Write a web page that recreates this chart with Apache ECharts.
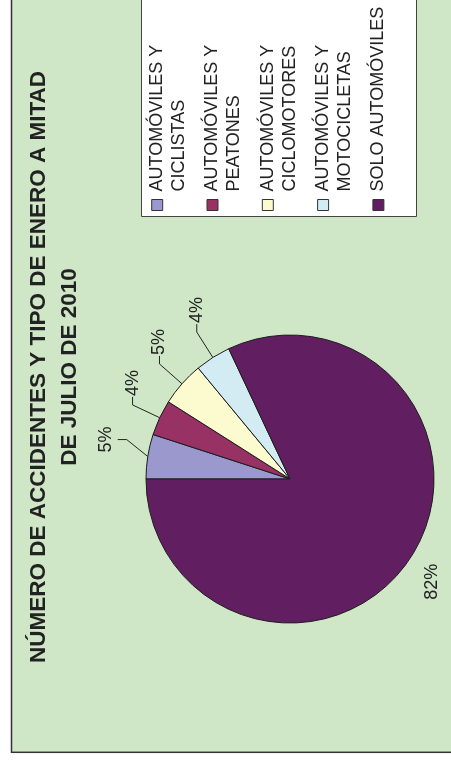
<!DOCTYPE html>
<html>
<head>
<meta charset="utf-8">
<script src="https://cdn.jsdelivr.net/npm/echarts@6/dist/echarts.min.js"></script>
<style>
  html, body { margin: 0; padding: 0; background: #fff; width: 451px; height: 765px; overflow: hidden; }
  /* The chart is laid out landscape and turned a quarter turn so it reads bottom-to-top. */
  #chart {
    position: absolute; left: 0; top: 0;
    width: 765px; height: 451px;
    transform-origin: 0 0;
    transform: translate(0, 765px) rotate(-90deg);
  }
</style>
</head>
<body>
<div id="chart"></div>
<script>
// Accident types (legend entries) and their share of the total, in %
const categories = [
  'AUTOMÓVILES Y\nCICLISTAS',
  'AUTOMÓVILES Y\nPEATONES',
  'AUTOMÓVILES Y\nCICLOMOTORES',
  'AUTOMÓVILES Y\nMOTOCICLETAS',
  'SOLO AUTOMÓVILES'
];
const shares = [5, 4, 5, 4, 82];
const sliceColors = ['#9a98cc', '#983265', '#fcfacf', '#d3ecf3', '#611f61'];
const titleLines = ['NÚMERO DE ACCIDENTES Y TIPO DE ENERO A MITAD', 'DE JULIO DE 2010'];

const FONT = '"Liberation Sans", Arial, Helvetica, sans-serif';
const CX = 286, CY = 290, R = 144;
const total = shares.reduce((a, b) => a + b, 0);

// Mid angle of slice i, measured clockwise from 12 o'clock
function midAngle(i) {
  let before = 0;
  for (let k = 0; k < i; k++) before += shares[k];
  return (before + shares[i] / 2) / total * Math.PI * 2;
}

// Pad legend text so the swatch lines up with the first text line
// and every entry takes the same number of lines
const BLANK = '\u00a0';
const maxLines = Math.max(...categories.map(c => c.split('\n').length));
const blockLines = 2 * maxLines - 1;
function legendText(name) {
  const lines = name.split('\n');
  const n = lines.length;
  const extra = (blockLines - (2 * n - 1)) / 2;
  const pre = new Array(n - 1 + extra).fill(BLANK);
  const post = new Array(extra).fill(BLANK);
  return pre.concat(lines, post).join('\n');
}

const chart = echarts.init(document.getElementById('chart'), null, { renderer: 'canvas' });

chart.setOption({
  backgroundColor: '#ffffff',
  animation: false,
  graphic: [
    {
      type: 'rect', z: -10, silent: true,
      shape: { x: 12.7, y: 11.5, width: 800, height: 500 },
      style: { fill: '#cfe7c6', stroke: '#333333', lineWidth: 1.5 }
    },
    {
      type: 'rect', z: -5, silent: true,
      shape: { x: 548.5, y: 141.5, width: 300, height: 275 },
      style: { fill: '#ffffff', stroke: '#444444', lineWidth: 1 }
    }
  ],
  title: {
    text: titleLines.join('\n'),
    left: 398,
    top: 23.5,
    padding: 0,
    textAlign: 'center',
    textStyle: {
      fontFamily: FONT, fontSize: 22.5, fontWeight: 'bold',
      color: '#222222', lineHeight: 31
    }
  },
  legend: {
    orient: 'vertical',
    left: 554,
    top: 124.2,
    padding: 0,
    itemGap: -10.7,
    itemWidth: 11,
    itemHeight: 11,
    icon: 'rect',
    selectedMode: false,
    data: categories,
    formatter: legendText,
    itemStyle: { borderColor: '#333333', borderWidth: 1 },
    textStyle: {
      fontFamily: FONT, fontSize: 18, color: '#222222',
      lineHeight: 22, padding: [0, 0, 0, 3]
    }
  },
  series: [{
    type: 'pie',
    center: [CX, CY],
    radius: R,
    startAngle: 90,
    clockwise: true,
    percentPrecision: 0,
    avoidLabelOverlap: false,
    emphasis: { disabled: true },
    itemStyle: { borderColor: '#1c1c1c', borderWidth: 1 },
    label: {
      show: true,
      formatter: '{d}%',
      fontFamily: FONT, fontSize: 18, color: '#222222'
    },
    labelLine: {
      show: true, length: 28, length2: 8,
      lineStyle: { color: '#222222', width: 1 }
    },
    labelLayout: function (p) {
      const i = p.dataIndex;
      const a = midAngle(i);
      const ux = Math.sin(a), uy = -Math.cos(a);
      const ex = CX + R * ux, ey = CY + R * uy;
      if (shares[i] > 50) {
        // big slice: nearest label corner sits just off the rim, no leader
        const bx = ex + 14 * ux, by = ey + 14 * uy;
        return {
          x: bx, y: by,
          align: ux >= 0 ? 'left' : 'right',
          verticalAlign: uy >= 0 ? 'top' : 'bottom'
        };
      }
      if (a < 0.3) {
        // near the top: slanted leader, short upward tick, label centred above
        const b = a + 0.52;
        const bx = ex + 27 * Math.sin(b), by = ey - 27 * Math.cos(b);
        const ty = by - 9;
        return {
          x: bx, y: ty - 3, align: 'center', verticalAlign: 'bottom',
          labelLinePoints: [[ex, ey], [bx, by], [bx, ty]]
        };
      }
      const L1 = 30;
      const bx = ex + L1 * ux, by = ey + L1 * uy;
      const side = ux >= 0 ? 1 : -1;
      const tx = bx + side * 8;
      return {
        x: tx + side * 1, y: by, align: side > 0 ? 'left' : 'right', verticalAlign: 'middle',
        labelLinePoints: [[ex, ey], [bx, by], [tx, by]]
      };
    },
    data: categories.map((name, i) => ({
      name: name,
      value: shares[i],
      itemStyle: { color: sliceColors[i] },
      labelLine: { show: shares[i] <= 50 }
    }))
  }]
});
</script>
</body>
</html>
